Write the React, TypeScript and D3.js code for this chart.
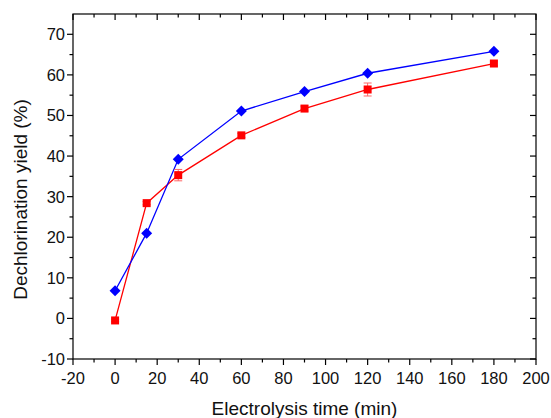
import React from "react";
import * as d3 from "d3";

const times = [0, 15, 30, 60, 90, 120, 180];
const blueYield = [6.8, 21.0, 39.2, 51.1, 55.9, 60.4, 65.8];
const redYield = [-0.5, 28.4, 35.3, 45.1, 51.7, 56.4, 62.8];
const redError = [0.3, 0.4, 1.4, 0.5, 0.6, 1.6, 0.6];
const xTicks = [-20, 0, 20, 40, 60, 80, 100, 120, 140, 160, 180, 200];
const yTicks = [-10, 0, 10, 20, 30, 40, 50, 60, 70];
const xTitle = "Electrolysis time (min)";
const yTitle = "Dechlorination yield (%)";

export default function App() {
  const W = 551, H = 418;
  const L = 73, R = 536, T = 14, B = 359;
  const x = d3.scaleLinear().domain([-20, 200]).range([L, R]);
  const y = d3.scaleLinear().domain([-10, 75]).range([B, T]);
  const blueLine = d3.line<number>().x((_, i) => x(times[i])).y((d) => y(d))(blueYield) || "";
  const redLine = d3.line<number>().x((_, i) => x(times[i])).y((d) => y(d))(redYield) || "";
  const xMinor = d3.range(-10, 200, 20);
  const yMinor = d3.range(-5, 75, 10);
  const font = "'Liberation Sans', Arial, sans-serif";
  const axisColor = "#000";
  return (
    <svg width={W} height={H} style={{ position: "absolute", left: 0, top: 0, background: "#fff" }}>
      <rect x={L} y={T} width={R - L} height={B - T} fill="none" stroke={axisColor} strokeWidth={1.2} />
      {xTicks.map((t) => (
        <g key={"xt" + t}>
          <line x1={x(t)} x2={x(t)} y1={B} y2={B + 6} stroke={axisColor} strokeWidth={1.2} />
          <line x1={x(t)} x2={x(t)} y1={T} y2={T + 6} stroke={axisColor} strokeWidth={1.2} />
          <text x={x(t)} y={B + 25} textAnchor="middle" fontSize={16.5} fontFamily={font} fill="#111">{t}</text>
        </g>
      ))}
      {xMinor.map((t) => (
        <g key={"xm" + t}>
          <line x1={x(t)} x2={x(t)} y1={B} y2={B + 3.5} stroke={axisColor} strokeWidth={1.2} />
          <line x1={x(t)} x2={x(t)} y1={T} y2={T + 3.5} stroke={axisColor} strokeWidth={1.2} />
        </g>
      ))}
      {yTicks.map((t) => (
        <g key={"yt" + t}>
          <line x1={L - 6} x2={L} y1={y(t)} y2={y(t)} stroke={axisColor} strokeWidth={1.2} />
          <line x1={R - 6} x2={R} y1={y(t)} y2={y(t)} stroke={axisColor} strokeWidth={1.2} />
          <text x={L - 8} y={y(t) + 6} textAnchor="end" fontSize={16.5} fontFamily={font} fill="#111">{t}</text>
        </g>
      ))}
      {yMinor.map((t) => (
        <g key={"ym" + t}>
          <line x1={L - 3.5} x2={L} y1={y(t)} y2={y(t)} stroke={axisColor} strokeWidth={1.2} />
          <line x1={R - 3.5} x2={R} y1={y(t)} y2={y(t)} stroke={axisColor} strokeWidth={1.2} />
        </g>
      ))}
      <path d={redLine} fill="none" stroke="#ff0000" strokeWidth={1.3} />
      <path d={blueLine} fill="none" stroke="#0000ff" strokeWidth={1.3} />
      {redYield.map((v, i) => (
        <g key={"re" + i} stroke="#ff6666" strokeWidth={1}>
          <line x1={x(times[i])} x2={x(times[i])} y1={y(v - redError[i])} y2={y(v + redError[i])} />
          <line x1={x(times[i]) - 4} x2={x(times[i]) + 4} y1={y(v - redError[i])} y2={y(v - redError[i])} />
          <line x1={x(times[i]) - 4} x2={x(times[i]) + 4} y1={y(v + redError[i])} y2={y(v + redError[i])} />
        </g>
      ))}
      {redYield.map((v, i) => (
        <rect key={"rs" + i} x={x(times[i]) - 4} y={y(v) - 4} width={8} height={8} fill="#ff0000" />
      ))}
      {blueYield.map((v, i) => {
        const cx = x(times[i]), cy = y(v), s = 5.5;
        return <path key={"bd" + i} d={`M${cx},${cy - s}L${cx + s},${cy}L${cx},${cy + s}L${cx - s},${cy}Z`} fill="#0000ff" />;
      })}
      <text x={(L + R) / 2} y={415} textAnchor="middle" fontSize={19} fontFamily={font} fill="#111">{xTitle}</text>
      <text transform={`translate(27,${(T + B) / 2 + 13}) rotate(-90)`} textAnchor="middle" fontSize={19} fontFamily={font} fill="#111">{yTitle}</text>
    </svg>
  );
}
